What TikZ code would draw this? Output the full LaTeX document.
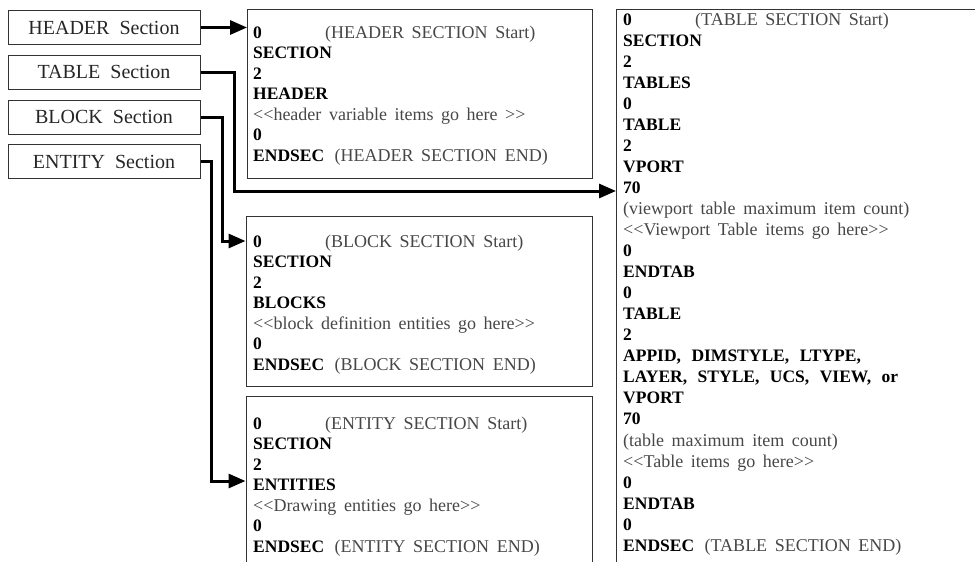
\documentclass[tikz,border=0pt]{standalone}
\usepackage{fontspec}
\setmainfont{Liberation Serif}
\usetikzlibrary{arrows.meta}
\newcommand{\gr}[1]{{\fontsize{18}{21}\selectfont\spaceskip=0.42em\relax\color{black!72}#1}}
\newcommand{\zs}{\makebox[72pt][l]{\textbf{0}}}
\newcommand{\fl}{\rule{0pt}{14pt}}
\newcommand{\dlt}{<\kern0pt<}
\newcommand{\dgt}{>\kern0pt>}
\newcommand{\lblfont}{\fontsize{20}{22}\selectfont\spaceskip=0.5em\relax}
\newcommand{\codefont}{\fontsize{17.5}{20.5}\selectfont\spaceskip=0.6em\relax}
\newcommand{\tblfont}{\fontsize{17.5}{21.04}\selectfont\spaceskip=0.6em\relax}
\begin{document}
\begin{tikzpicture}[x=1pt,y=-1pt,
  lbl/.style={draw=black!80, line width=1pt, minimum width=192pt, minimum height=34pt, inner sep=0pt, font=\lblfont, text=black!85},
  frame/.style={draw=black!80, line width=1pt, anchor=north west, inner sep=0pt},
  code/.style={anchor=north west, inner sep=0pt, align=left, font=\codefont},
  conn/.style={line width=3pt, -{Triangle[length=17pt,width=14pt]}},
]
\useasboundingbox (0,0) rectangle (975,562);
\clip (0,0) rectangle (975,562);

% left labels
\node[lbl] (hdrL) at (104,27.5) {HEADER Section};
\node[lbl] (tblL) at (104,72) {TABLE Section};
\node[lbl] (blkL) at (104,117) {BLOCK Section};
\node[lbl] (entL) at (104,161.5) {ENTITY Section};

% frames
\node[frame, minimum width=345pt, minimum height=169pt] (hdrB) at (247,9) {};
\node[frame, minimum width=346pt, minimum height=170pt] (blkB) at (245.5,216) {};
\node[frame, minimum width=346pt, minimum height=200pt] (entB) at (245.5,396) {};
\node[frame, minimum width=400pt, minimum height=600pt] (tblB) at (616,9) {};

% texts
\node[code] (hdrT) at (253,24) {\fl\zs\gr{(HEADER SECTION Start)}\\
\textbf{SECTION}\\ \textbf{2}\\ \textbf{HEADER}\\
\gr{\dlt header variable items go here \dgt}\\ \textbf{0}\\
\textbf{ENDSEC} \gr{(HEADER SECTION END)}};

\node[code] (blkT) at (253,233) {\fl\zs\gr{(BLOCK SECTION Start)}\\
\textbf{SECTION}\\ \textbf{2}\\ \textbf{BLOCKS}\\
\gr{\dlt block definition entities go here\dgt}\\ \textbf{0}\\
\textbf{ENDSEC} \gr{(BLOCK SECTION END)}};

\node[code] (entT) at (253,415) {\fl\zs\gr{(ENTITY SECTION Start)}\\
\textbf{SECTION}\\ \textbf{2}\\ \textbf{ENTITIES}\\
\gr{\dlt Drawing entities go here\dgt}\\ \textbf{0}\\
\textbf{ENDSEC} \gr{(ENTITY SECTION END)}};

\node[code, font=\tblfont] (tblT) at (623,11) {\fl\zs\gr{(TABLE SECTION Start)}\\
\textbf{SECTION}\\ \textbf{2}\\ \textbf{TABLES}\\ \textbf{0}\\ \textbf{TABLE}\\
\textbf{2}\\ \textbf{VPORT}\\ \textbf{70}\\
\gr{(viewport table maximum item count)}\\
\gr{\dlt Viewport Table items go here\dgt}\\ \textbf{0}\\ \textbf{ENDTAB}\\
\textbf{0}\\ \textbf{TABLE}\\ \textbf{2}\\
\textbf{APPID, DIMSTYLE, LTYPE,}\\
\textbf{LAYER, STYLE, UCS, VIEW, or}\\
\textbf{VPORT}\\ \textbf{70}\\
\gr{(table maximum item count)}\\
\gr{\dlt Table items go here\dgt}\\ \textbf{0}\\ \textbf{ENDTAB}\\
\textbf{0}\\ \textbf{ENDSEC} \gr{(TABLE SECTION END)}};

% connectors
\coordinate (tbend) at (234,191);
\coordinate (bbend) at (222.5,241);
\coordinate (ebend) at (211,481);
\draw[conn] (hdrL.east) -- (hdrL.east -| hdrB.west);
\draw[conn] (tblL.east) -| (tbend) -- (tbend -| tblB.west);
\draw[conn] (blkL.east) -| (bbend) -- (bbend -| blkB.west);
\draw[conn] (entL.east) -| (ebend) -- (ebend -| entB.west);
\end{tikzpicture}
\end{document}
